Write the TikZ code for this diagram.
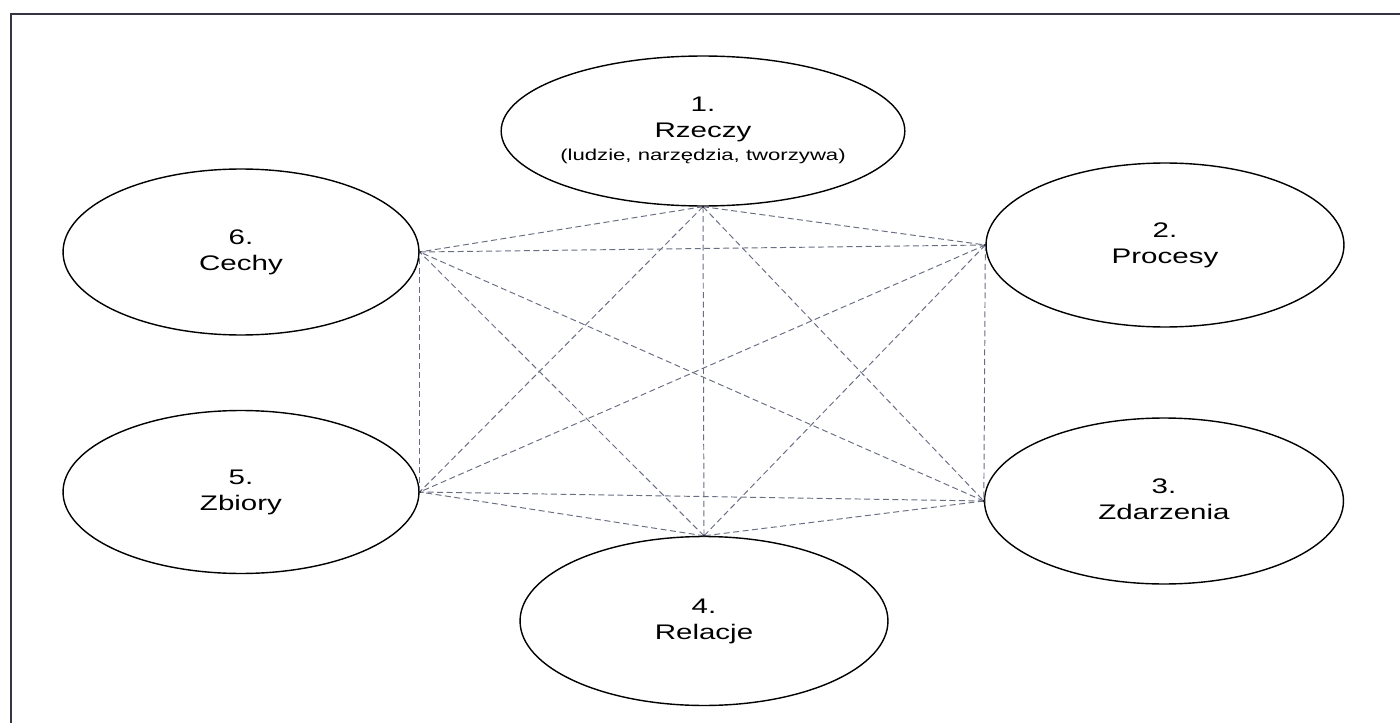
\documentclass[tikz,border=0pt]{standalone}
\usepackage{fontspec}
\usepackage{graphicx}
\setmainfont{Liberation Sans}
\usetikzlibrary{shapes.geometric}

% Horizontally widened, centred multi-line label
\newcommand{\widelabel}[1]{\scalebox{1.4}[1]{\begin{tabular}{@{}c@{}}#1\end{tabular}}}

\definecolor{framecol}{RGB}{52,52,66}
\definecolor{linkcol}{RGB}{105,110,130}

\tikzset{
  topic/.style={draw=black, line width=0.8pt, ellipse, inner sep=0pt,
    font=\fontsize{12}{14.7}\selectfont, text=black},
  link/.style={draw=linkcol, line width=0.55pt, dash pattern=on 3.4pt off 2pt},
  joint/.style={fill=black!85},
}

\begin{document}
\begin{tikzpicture}[x=0.02cm, y=-0.02cm]
  \useasboundingbox (0,0) rectangle (1400,723);

  % page frame (top and left edge)
  \draw[framecol, line width=1.1pt] (11,723) -- (11,14) -- (1400,14);

  % the six categories
  \node[topic, minimum width=7.3cm, minimum height=3.0cm] (n1) at (703,131)
    {\widelabel{1.\\ Rzeczy\\[-1.7pt] \fontsize{9}{11}\selectfont (ludzie, narzędzia, tworzywa)}};
  \node[topic, minimum width=7.16cm, minimum height=3.28cm] (n2) at (1165,245)
    {\widelabel{2.\\ Procesy}};
  \node[topic, minimum width=7.18cm, minimum height=3.32cm] (n3) at (1164,501)
    {\widelabel{3.\\ Zdarzenia}};
  \node[topic, minimum width=7.36cm, minimum height=3.38cm] (n4) at (704,621)
    {\widelabel{4.\\ Relacje}};
  \node[topic, minimum width=7.12cm, minimum height=3.26cm] (n5) at (241,492)
    {\widelabel{5.\\ Zbiory}};
  \node[topic, minimum width=7.12cm, minimum height=3.32cm] (n6) at (241,252)
    {\widelabel{6.\\ Cechy}};

  % connection points
  \coordinate (p1) at (n1.south);
  \coordinate (p2) at (n2.west);
  \coordinate (p3) at (n3.west);
  \coordinate (p4) at (n4.north);
  \coordinate (p5) at (n5.east);
  \coordinate (p6) at (n6.east);

  % every category linked with every other
  \foreach \a/\b in {p1/p2,p1/p3,p1/p4,p1/p5,p1/p6,
                     p2/p3,p2/p4,p2/p5,p2/p6,
                     p3/p4,p3/p5,p3/p6,
                     p4/p5,p4/p6,
                     p5/p6}
    \draw[link] (\a) -- (\b);

  \foreach \p in {p1,p2,p3,p4,p5,p6}
    \fill[joint] (\p) circle (1.4);
\end{tikzpicture}
\end{document}
